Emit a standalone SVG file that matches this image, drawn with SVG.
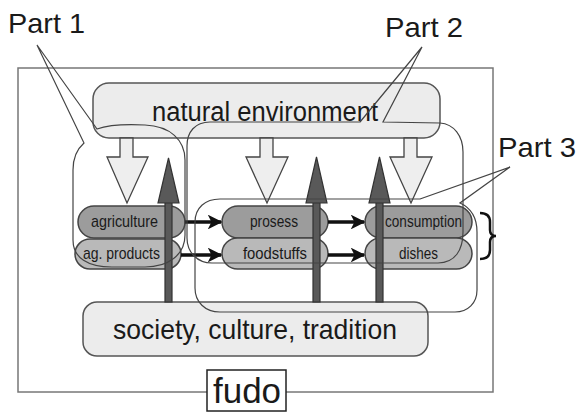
<svg xmlns="http://www.w3.org/2000/svg" width="577" height="415" viewBox="0 0 577 415">
<style>
text{font-family:"Liberation Sans Narrow","Liberation Sans",Arial,sans-serif;fill:#1a1a1a}
.big{font-size:27px}
.part{font-size:28px}
.lbl{font-size:17px}
.box{fill:#ececec;stroke:#555;stroke-width:1.5}
.pillA{fill:#9c9c9c;stroke:#444;stroke-width:1.5}
.pillB{fill:#b9b9b9;stroke:#444;stroke-width:1.5}
.down{fill:#eeeeee;stroke:#444;stroke-width:1.3}
.up{fill:#595959;stroke:#333;stroke-width:1.2}
.harrow{stroke:#111;stroke-width:3.5;fill:none}
.outline{fill:none;stroke:#444;stroke-width:1.2}
</style>
<defs>
<marker id="ah" viewBox="0 0 10 10" refX="9" refY="5" markerWidth="5" markerHeight="4.2" markerUnits="strokeWidth" orient="auto">
<path d="M0,0 L10,5 L0,10 L2.5,5 Z" fill="#111"/>
</marker>
</defs>
<rect x="18" y="68" width="475" height="324" fill="#fff" stroke="#777" stroke-width="1.5"/>
<g id="natural-environment">
<rect class="box" x="93" y="83" width="347" height="55" rx="16"/>
<text class="big" x="152" y="121" textLength="226" lengthAdjust="spacingAndGlyphs">natural environment</text>
</g>
<g id="society">
<rect class="box" x="83" y="302" width="345" height="54" rx="14"/>
<text x="113" y="339" font-size="28" textLength="284" lengthAdjust="spacingAndGlyphs">society, culture, tradition</text>
</g>
<g id="agriculture">
<rect class="pillA" x="78" y="206" width="107" height="32" rx="16"/>
<text class="lbl" x="91" y="227" textLength="67" lengthAdjust="spacingAndGlyphs">agriculture</text>
</g>
<g id="ag-products">
<rect class="pillB" x="75" y="239" width="106" height="30" rx="15"/>
<text class="lbl" x="83" y="259" textLength="77" lengthAdjust="spacingAndGlyphs">ag. products</text>
</g>
<g id="prosess">
<rect class="pillA" x="222" y="206" width="106" height="32" rx="16"/>
<text class="lbl" x="250" y="227" textLength="48" lengthAdjust="spacingAndGlyphs">prosess</text>
</g>
<g id="foodstuffs">
<rect class="pillB" x="222" y="238" width="106" height="31" rx="15.5"/>
<text class="lbl" x="243" y="259" textLength="64" lengthAdjust="spacingAndGlyphs">foodstuffs</text>
</g>
<g id="consumption">
<rect class="pillA" x="365" y="206" width="107" height="32" rx="16"/>
<text class="lbl" x="385" y="227" textLength="77" lengthAdjust="spacingAndGlyphs">consumption</text>
</g>
<g id="dishes">
<rect class="pillB" x="365" y="238" width="107" height="31" rx="15.5"/>
<text class="lbl" x="399" y="259" textLength="39" lengthAdjust="spacingAndGlyphs">dishes</text>
</g>
<g id="connectors">
<polygon class="down" points="120,138 133,138 133,157 148,157 127,203 107,157 120,157"/>
<polygon class="down" points="260,138 273,138 273,157 288,157 267,203 246,157 260,157"/>
<polygon class="down" points="404,138 417,138 417,157 432,157 411,203 390,157 404,157"/>
<rect class="up" x="165" y="202" width="7" height="100"/>
<polygon class="up" points="158,203 179,203 168.5,158"/>
<rect class="up" x="313" y="202" width="7" height="100"/>
<polygon class="up" points="306,203 327,203 316.5,157"/>
<rect class="up" x="376" y="202" width="7" height="100"/>
<polygon class="up" points="369,203 390,203 379.5,157"/>
<line class="harrow" x1="185" y1="222" x2="221" y2="222" marker-end="url(#ah)"/>
<line class="harrow" x1="181" y1="255" x2="221" y2="255" marker-end="url(#ah)"/>
<line class="harrow" x1="328" y1="222" x2="364" y2="222" marker-end="url(#ah)"/>
<line class="harrow" x1="328" y1="255" x2="364" y2="255" marker-end="url(#ah)"/>
</g>
<g id="part1">
<path class="outline" d="M97,129 L37,45 L84,143 C76,150 73,158 73,170 L73,240 C73,258 88,267 112,267 L145,267 C168,267 185,255 185,235 L185,160 C185,140 170,126 145,125 C125,124 108,125 97,129 Z"/>
<text class="part" x="8" y="33" textLength="77" lengthAdjust="spacingAndGlyphs">Part 1</text>
</g>
<g id="part2">
<path class="outline" d="M360,122 L422,47 L383,122 L440,123 C454,124 463,136 463,152 L463,232 C463,250 455,263 438,263 L212,263 C197,263 187,252 187,238 L187,146 C187,132 195,122 210,122 Z"/>
<text class="part" x="385" y="37" textLength="78" lengthAdjust="spacingAndGlyphs">Part 2</text>
</g>
<g id="part3">
<path class="outline" d="M420,199 L510,167 L460,203 C471,208 477,218 477,232 L477,290 C477,303 468,312 455,312 L220,312 C205,312 195,302 195,288 L195,222 C195,208 205,199 220,199 Z"/>
<path d="M480,213 Q490,213 490,222 L490,230 Q490,236 496,236 Q490,236 490,242 L490,250 Q490,259 480,259" fill="none" stroke="#111" stroke-width="2.5"/>
<text class="part" x="498" y="157" textLength="78" lengthAdjust="spacingAndGlyphs">Part 3</text>
</g>
<g id="fudo">
<rect x="207" y="370" width="79" height="41" fill="#fff" stroke="#222" stroke-width="1.5"/>
<text x="213" y="403" font-size="35" textLength="68" lengthAdjust="spacingAndGlyphs">fudo</text>
</g>
</svg>
